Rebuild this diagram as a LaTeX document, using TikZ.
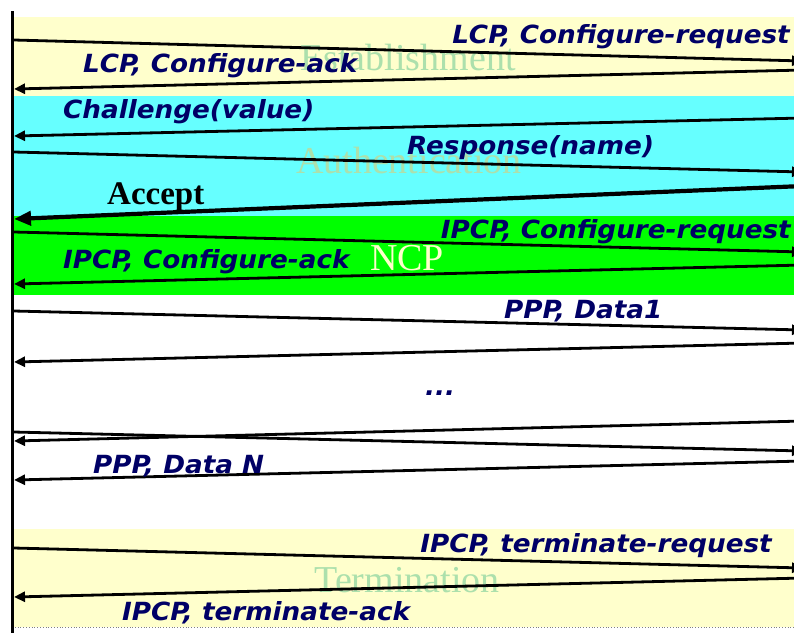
\documentclass[tikz,border=0pt]{standalone}
\usepackage{fontspec}
\setmainfont{Liberation Serif}
\newfontfamily\msgfont[FakeStretch=1.05]{DejaVu Sans}
\usetikzlibrary{arrows.meta}
\definecolor{PaleYellow}{RGB}{255,255,204}
\definecolor{LightCyan}{RGB}{102,255,255}
\definecolor{BrightGreen}{RGB}{0,255,0}
\definecolor{Navy}{RGB}{0,0,102}
\definecolor{FadedGreen}{RGB}{172,224,172}

\begin{document}
\begin{tikzpicture}[x=1pt, y=-1pt,
    msg/.style={-{Triangle[length=11pt, width=10pt]}, line width=2.8pt, black},
    bigmsg/.style={-{Triangle[length=17pt, width=14pt]}, line width=4.2pt, black},
    lbl/.style={font=\msgfont\bfseries\itshape\fontsize{25}{28}\selectfont,
        text=Navy, inner sep=0pt},
    phase/.style={font=\fontsize{38}{40}\selectfont, text=FadedGreen,
        inner sep=0pt, anchor=base},
]
\useasboundingbox (0,0) rectangle (794,633);

% ================= bandas de fase =================
\fill[PaleYellow]  (12,17)  rectangle (794,96);
\fill[LightCyan]   (12,96)  rectangle (794,216);
\fill[BrightGreen] (12,216) rectangle (794,295);
\fill[PaleYellow]  (12,529) rectangle (794,627);
\draw[gray, dotted, line width=0.8pt] (12,627) -- (794,627);

\node[phase] (est)  at (408,70)  {Establishment};
\node[phase] (auth) at (409,173) {Authentication};
\node[phase, text=PaleYellow] (ncp) at (407,270) {NCP};
\node[phase] (term) at (407,592) {Termination};

% ================= linea de vida =================
\coordinate (top) at (12,11);
\coordinate (bot) at (12,633);
\draw[line width=3pt] (top) -- (bot);

% extremos de los mensajes (izquierda / derecha)
\foreach \n/\yl/\yr in {1/40/61, 2/89/70, 3/136/118, 4/152/172, 5/219/186,
    6/232/252, 7/284/265, 8/311/330, 9/362/343, 10/432/451, 11/441/421,
    12/480/461, 13/548/568, 14/597/578} {
  \coordinate (L\n) at (14,\yl);
  \coordinate (R\n) at (803,\yr);
}

% ================= mensajes =================
\draw[msg] (L1) -- (R1);
\draw[msg] (R2) -- (L2);
\draw[msg] (R3) -- (L3);
\draw[msg] (L4) -- (R4);
\draw[bigmsg] (R5) -- (L5);
\draw[msg] (L6) -- (R6);
\draw[msg] (R7) -- (L7);
\draw[msg] (L8) -- (R8);
\draw[msg] (R9) -- (L9);
\draw[msg] (L10) -- (R10);
\draw[msg] (R11) -- (L11);
\draw[msg] (R12) -- (L12);
\draw[msg] (L13) -- (R13);
\draw[msg] (R14) -- (L14);

% ================= etiquetas =================
\node[lbl, anchor=base east] (lcpreq) at (790,43)  {LCP, Configure-request};
\node[lbl, anchor=base west] (lcpack) at (83,72)   {LCP, Configure-ack};
\node[lbl, anchor=base west] (chal)   at (63,118)  {Challenge(value)};
\node[lbl, anchor=base west] (resp)   at (407,154) {Response(name)};
\node[anchor=base west, inner sep=0pt, font=\bfseries\fontsize{33}{36}\selectfont]
    (acc) at (107,204) {Accept};
\node[lbl, anchor=base east] (ipreq)  at (791,238) {IPCP, Configure-request};
\node[lbl, anchor=base west] (ipack)  at (63,268)  {IPCP, Configure-ack};
\node[lbl, anchor=base west] (data1)  at (504,318) {PPP, Data1};
\node[lbl, anchor=base west] (dots)   at (425,395) {...};
\node[lbl, anchor=base west] (datan)  at (93,473)  {PPP, Data N};
\node[lbl, anchor=base east] (treq)   at (772,552) {IPCP, terminate-request};
\node[lbl, anchor=base west] (tack)   at (122,620) {IPCP, terminate-ack};

\end{tikzpicture}
\end{document}
